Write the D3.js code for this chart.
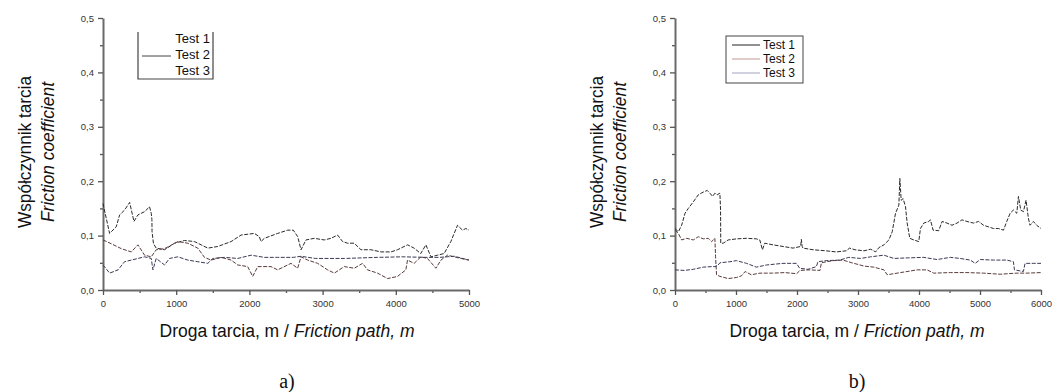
<!DOCTYPE html>
<html>
<head>
<meta charset="utf-8">
<script src="https://cdn.jsdelivr.net/npm/d3@7"></script>
<style>
  body { margin: 0; background: #fff; }
</style>
</head>
<body>
<svg id="chart" width="1052" height="392" font-family="Arial, 'Liberation Sans', sans-serif"></svg>
<script>
// ---- data: [friction path m, friction coefficient] ----
const seriesNames = ["Test 1", "Test 2", "Test 3"];

const aTest1 = [[0,0.159],[90,0.104],[180,0.116],[227,0.138],[295,0.147],[364,0.161],[423,0.126],[477,0.138],[568,0.144],[636,0.153],[659,0.141],[668,0.130],[670,0.107],[690,0.085],[727,0.077],[841,0.074],[977,0.086],[1114,0.091],[1250,0.089],[1341,0.083],[1432,0.077],[1568,0.080],[1750,0.089],[1886,0.101],[2068,0.104],[2136,0.098],[2159,0.089],[2204,0.095],[2386,0.104],[2523,0.110],[2600,0.110],[2660,0.098],[2705,0.074],[2773,0.092],[2886,0.095],[3023,0.092],[3114,0.095],[3205,0.101],[3273,0.089],[3341,0.086],[3432,0.086],[3524,0.074],[3660,0.074],[3797,0.070],[3933,0.070],[4024,0.074],[4160,0.083],[4250,0.077],[4341,0.067],[4411,0.083],[4480,0.061],[4570,0.064],[4660,0.067],[4752,0.089],[4843,0.119],[4911,0.110],[4957,0.113],[5000,0.110]];
const aTest2 = [[0,0.092],[114,0.085],[250,0.076],[386,0.070],[477,0.083],[568,0.064],[659,0.061],[727,0.074],[841,0.076],[1023,0.089],[1159,0.086],[1295,0.077],[1386,0.060],[1477,0.055],[1614,0.060],[1750,0.055],[1841,0.046],[1977,0.043],[2045,0.025],[2114,0.043],[2295,0.043],[2386,0.037],[2523,0.046],[2568,0.049],[2659,0.040],[2705,0.061],[2796,0.055],[2932,0.049],[3069,0.037],[3160,0.031],[3296,0.043],[3433,0.040],[3546,0.049],[3614,0.037],[3751,0.031],[3888,0.021],[4024,0.025],[4137,0.037],[4160,0.055],[4251,0.049],[4342,0.061],[4433,0.058],[4548,0.040],[4616,0.055],[4707,0.064],[4889,0.058],[5000,0.055]];
const aTest3 = [[0,0.046],[91,0.031],[205,0.037],[295,0.052],[386,0.055],[477,0.058],[568,0.061],[659,0.058],[682,0.037],[727,0.058],[841,0.046],[909,0.058],[1023,0.061],[1159,0.055],[1295,0.052],[1432,0.049],[1500,0.058],[1659,0.060],[1841,0.058],[2023,0.064],[2204,0.060],[2386,0.060],[2600,0.060],[2705,0.062],[2900,0.058],[3300,0.058],[3750,0.060],[4100,0.061],[4400,0.060],[4600,0.060],[4800,0.062],[5000,0.055]];

const bTest1 = [[0,0.113],[55,0.107],[109,0.119],[164,0.141],[218,0.150],[300,0.162],[382,0.175],[463,0.180],[529,0.183],[572,0.178],[616,0.172],[654,0.178],[692,0.175],[736,0.178],[747,0.147],[750,0.086],[790,0.086],[872,0.092],[1008,0.094],[1172,0.095],[1335,0.094],[1390,0.092],[1433,0.074],[1471,0.086],[1608,0.083],[1771,0.080],[1935,0.077],[2060,0.080],[2071,0.093],[2085,0.080],[2098,0.077],[2262,0.074],[2480,0.072],[2643,0.070],[2807,0.072],[2861,0.077],[2950,0.074],[3098,0.072],[3207,0.075],[3289,0.070],[3343,0.078],[3425,0.083],[3506,0.092],[3561,0.107],[3615,0.141],[3670,0.156],[3686,0.205],[3708,0.165],[3740,0.168],[3779,0.153],[3806,0.123],[3849,0.095],[3915,0.092],[3996,0.089],[4024,0.113],[4078,0.123],[4160,0.126],[4187,0.129],[4231,0.110],[4323,0.109],[4378,0.126],[4459,0.123],[4541,0.119],[4623,0.123],[4704,0.129],[4786,0.126],[4895,0.123],[4977,0.126],[5058,0.119],[5140,0.116],[5222,0.113],[5303,0.113],[5385,0.110],[5439,0.126],[5494,0.141],[5548,0.147],[5603,0.141],[5630,0.172],[5668,0.147],[5712,0.144],[5755,0.165],[5793,0.132],[5820,0.119],[5875,0.126],[5929,0.119],[6000,0.113]];
const bTest2 = [[0,0.110],[55,0.104],[109,0.092],[191,0.095],[300,0.092],[382,0.098],[463,0.094],[545,0.095],[600,0.089],[654,0.095],[665,0.061],[681,0.028],[736,0.025],[872,0.021],[1008,0.023],[1090,0.026],[1150,0.034],[1250,0.028],[1393,0.031],[1600,0.031],[1800,0.032],[1995,0.030],[2049,0.036],[2200,0.037],[2377,0.036],[2400,0.050],[2486,0.052],[2600,0.054],[2754,0.055],[2900,0.050],[3098,0.044],[3261,0.042],[3425,0.037],[3479,0.028],[3697,0.032],[3969,0.037],[4133,0.037],[4241,0.031],[4514,0.032],[4786,0.032],[5058,0.031],[5330,0.029],[5603,0.031],[5766,0.031],[6000,0.032]];
const bTest3 = [[0,0.037],[150,0.036],[300,0.038],[463,0.042],[600,0.043],[654,0.043],[700,0.045],[736,0.050],[900,0.052],[1008,0.054],[1172,0.049],[1335,0.042],[1500,0.046],[1771,0.049],[1990,0.049],[2044,0.040],[2180,0.038],[2317,0.043],[2344,0.052],[2480,0.054],[2700,0.055],[2850,0.060],[3044,0.058],[3207,0.061],[3425,0.064],[3588,0.058],[3806,0.059],[4078,0.060],[4296,0.056],[4514,0.060],[4677,0.058],[4840,0.055],[4922,0.049],[5004,0.056],[5222,0.055],[5439,0.055],[5548,0.052],[5565,0.037],[5711,0.034],[5739,0.049],[5875,0.049],[6000,0.049]];

const yTicks = [0, 0.1, 0.2, 0.3, 0.4, 0.5];
const aXTicks = [0, 1000, 2000, 3000, 4000, 5000];
const bXTicks = [0, 1000, 2000, 3000, 4000, 5000, 6000];

const lineColors = ["#2a2a2a", "#5a3a3a", "#3a3a55"];

const svg = d3.select("#chart");
const y = d3.scaleLinear().domain([0, 0.5]).range([290, 18]);
const fmtY = d => d3.format(".1f")(d).replace(".", ",");
const narrow = "'Liberation Sans Narrow', 'Arial Narrow', Arial, sans-serif";

function drawPanel(opts) {
  const x = d3.scaleLinear().domain([0, opts.xMax]).range([opts.x0, opts.x1]);
  const g = svg.append("g");

  // minor ticks
  const minorY = d3.range(0.05, 0.5, 0.1);
  g.append("g").attr("transform", `translate(${opts.x0},0)`)
    .call(d3.axisLeft(y).tickValues(minorY).tickSize(3).tickFormat(""))
    .call(a => a.select(".domain").remove());
  const minorX = d3.range(500, opts.xMax, 1000);
  g.append("g").attr("transform", "translate(0,290)")
    .call(d3.axisBottom(x).tickValues(minorX).tickSize(3).tickFormat(""))
    .call(a => a.select(".domain").remove());

  // major axes
  g.append("g").attr("transform", `translate(${opts.x0},0)`)
    .call(d3.axisLeft(y).tickValues(yTicks).tickSize(5).tickSizeOuter(0).tickPadding(4).tickFormat(fmtY));
  g.append("g").attr("transform", "translate(0,290)")
    .call(d3.axisBottom(x).tickValues(opts.xTicks).tickSize(5).tickSizeOuter(0).tickPadding(5).tickFormat(d3.format("d")));

  g.selectAll(".domain").attr("stroke", "#6a6a6a").attr("stroke-width", 2);
  g.selectAll(".tick line").attr("stroke", "#555").attr("stroke-width", 1.3);
  g.selectAll(".tick text").attr("font-size", 9.5).attr("fill", "#333")
    .attr("font-family", "Arial, 'Liberation Sans', sans-serif");

  // series
  const line = d3.line().x(d => x(d[0])).y(d => y(d[1]));
  opts.series.forEach((s, i) => {
    g.append("path").datum(s)
      .attr("fill", "none")
      .attr("stroke", lineColors[i])
      .attr("stroke-width", 1)
      .attr("stroke-dasharray", "4,1.5")
      .attr("d", line);
  });

  // axis titles
  const cy = 152;
  g.append("text")
    .attr("transform", `translate(${opts.x0 - 72},${cy}) rotate(-90)`)
    .attr("text-anchor", "middle")
    .attr("font-family", narrow)
    .attr("font-size", 18).attr("fill", "#111")
    .attr("textLength", 152).attr("lengthAdjust", "spacingAndGlyphs")
    .text("Współczynnik tarcia");
  g.append("text")
    .attr("transform", `translate(${opts.x0 - 49},${cy}) rotate(-90)`)
    .attr("text-anchor", "middle")
    .attr("font-family", narrow)
    .attr("font-style", "italic")
    .attr("font-size", 18).attr("fill", "#111")
    .attr("textLength", 140).attr("lengthAdjust", "spacingAndGlyphs")
    .text("Friction coefficient");

  const xt = g.append("text")
    .attr("x", opts.titleX).attr("y", 337)
    .attr("text-anchor", "middle")
    .attr("font-family", narrow)
    .attr("font-size", 18).attr("fill", "#111")
    .attr("textLength", 255).attr("lengthAdjust", "spacingAndGlyphs");
  xt.append("tspan").text("Droga tarcia, m / ");
  xt.append("tspan").attr("font-style", "italic").text("Friction path, m");

  g.append("text")
    .attr("x", opts.labelX).attr("y", 388)
    .attr("text-anchor", "middle")
    .attr("font-family", "'Liberation Serif', 'Times New Roman', serif")
    .attr("font-size", 20).attr("fill", "#111")
    .text(opts.label);

  return g;
}

const gA = drawPanel({ x0: 103, x1: 469, xMax: 5000, xTicks: aXTicks,
  series: [aTest1, aTest2, aTest3], titleX: 287, labelX: 287, label: "a)" });
const gB = drawPanel({ x0: 675, x1: 1041, xMax: 6000, xTicks: bXTicks,
  series: [bTest1, bTest2, bTest3], titleX: 857, labelX: 857, label: "b)" });

// legend a) (scanned: only the Test 2 sample visible, box open at top)
const legA = gA.append("g").attr("transform", "translate(138,32)");
legA.append("path").attr("d", "M0,0V47H75V0").attr("fill", "none")
  .attr("stroke", "#444").attr("stroke-width", 1.2);
seriesNames.forEach((n, i) => {
  if (i === 1) {
    legA.append("line").attr("x1", 4).attr("x2", 33).attr("y1", 24).attr("y2", 24)
      .attr("stroke", "#444").attr("stroke-width", 1);
  }
  legA.append("text").attr("x", 72).attr("y", 11 + i * 16)
    .attr("text-anchor", "end").attr("font-size", 13).attr("fill", "#111").text(n);
});

// legend b)
const legendColors = ["#222", "#c09a92", "#a2a2c0"];
const legB = gB.append("g").attr("transform", "translate(726,36)");
legB.append("rect").attr("width", 77).attr("height", 47).attr("fill", "#fff")
  .attr("stroke", "#444").attr("stroke-width", 1);
seriesNames.forEach((n, i) => {
  legB.append("line").attr("x1", 6).attr("x2", 34).attr("y1", 9 + i * 14).attr("y2", 9 + i * 14)
    .attr("stroke", legendColors[i]).attr("stroke-width", 1);
  legB.append("text").attr("x", 37).attr("y", 13 + i * 14)
    .attr("font-size", 12).attr("fill", "#111").text(n);
});
</script>
</body>
</html>
